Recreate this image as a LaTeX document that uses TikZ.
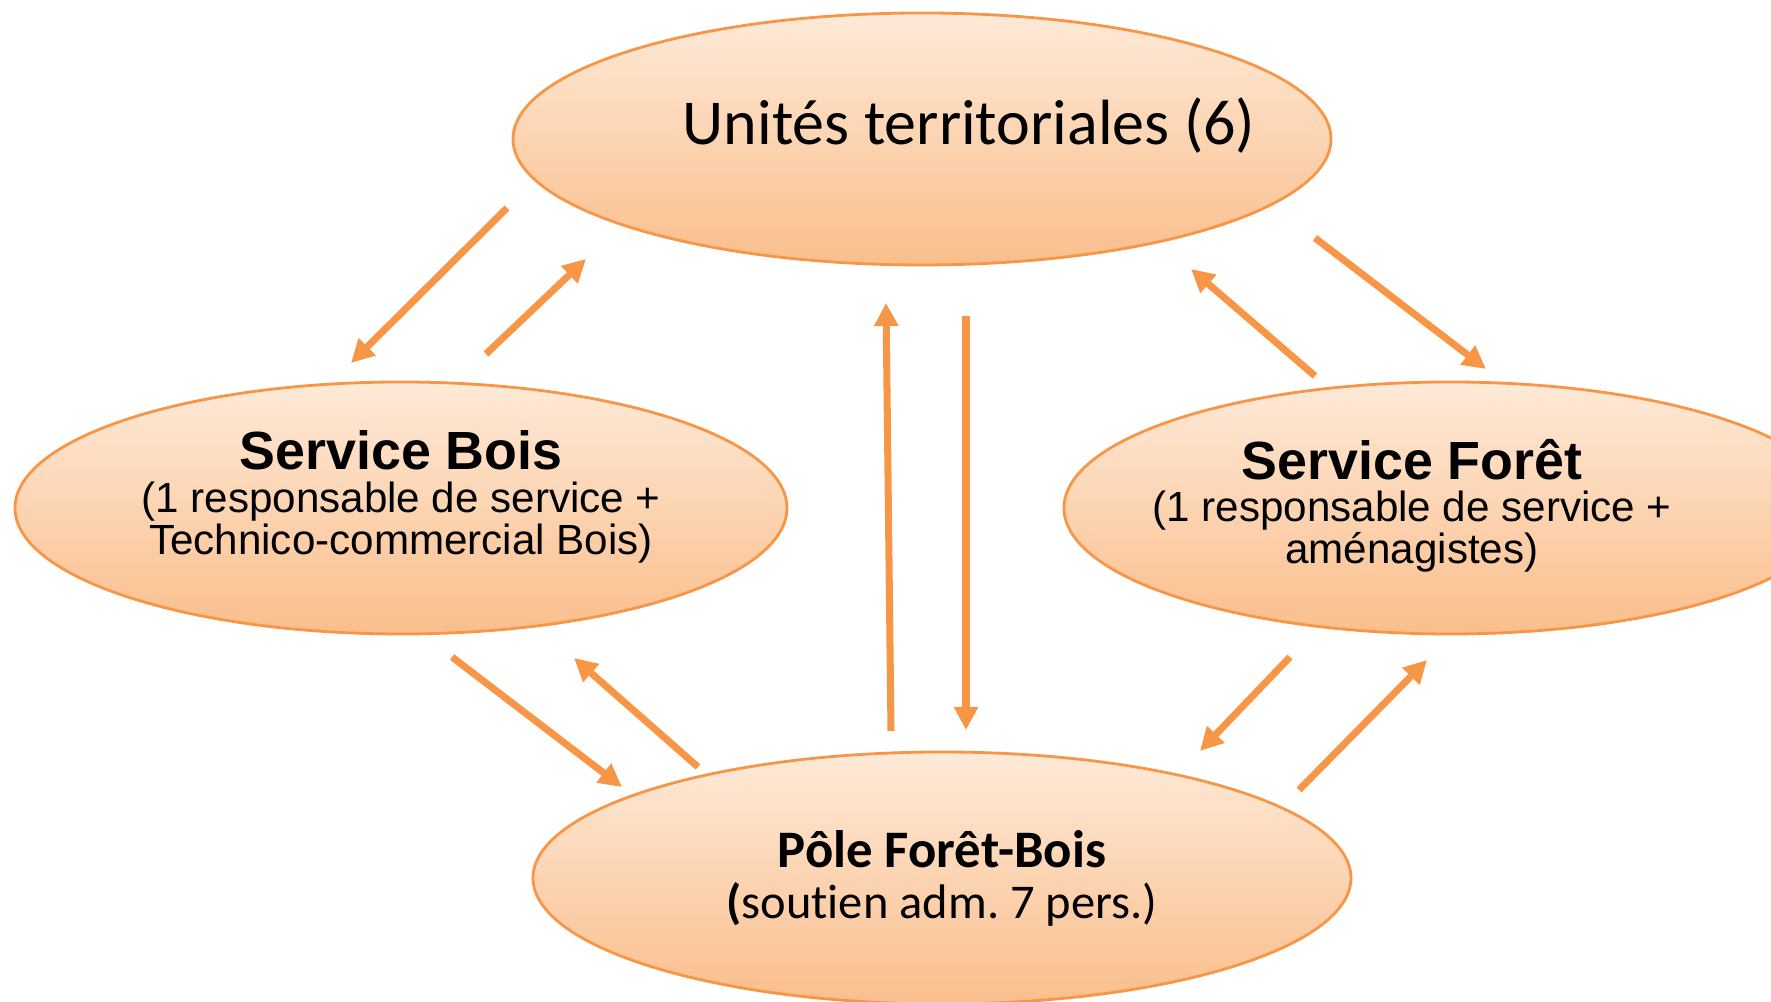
\documentclass[tikz,border=0pt]{standalone}
\usepackage{fontspec}
\setmainfont{Liberation Sans}
\newfontfamily\calibri[Ligatures=NoCommon]{Carlito}
\usetikzlibrary{shapes.geometric, arrows.meta, positioning}
\definecolor{accent}{RGB}{247,150,70}
\definecolor{peachtop}{RGB}{254,234,216}
\definecolor{peachbot}{RGB}{250,190,140}
\frenchspacing

\begin{document}
\begin{tikzpicture}[
    unit/.style={ellipse, draw=accent, line width=0.8pt, top color=peachtop, bottom color=peachbot, inner sep=0pt, minimum height=2.52cm},
    txt/.style={align=center, inner sep=0pt},
    arrow/.style={-{Triangle[width=0.23cm,length=0.23cm]}, line width=2pt, accent},
    ]
    \useasboundingbox (0,0) rectangle (17.71,10.02);
    \clip (0,0) rectangle (17.71,10.02);

    % Nodes
    \node[unit, minimum width=8.18cm] (ut) at (9.22,8.63) {};
    \node[unit, minimum width=7.72cm] (sb) at (4.01,4.94) {};
    \node[unit, minimum width=7.72cm] (sf) at (14.50,4.94) {};
    \node[unit, minimum width=8.18cm] (pfb) at (9.42,1.24) {};

    % Texts
    \node[txt, font=\calibri\fontsize{18.2}{20}\selectfont] (uttext) at (9.69,8.76) {Unités territoriales (6)};
    \node[txt, font=\fontsize{12}{12}\selectfont] (sbtext) at (4.01,5.05)
        {{\fontsize{15.3}{15.3}\selectfont\bfseries Service Bois}\\(1 responsable de service +\\Technico-commercial Bois)};
    \node[txt, font=\fontsize{12}{12}\selectfont] (sftext) at (14.12,4.96)
        {{\fontsize{15.3}{15.3}\selectfont\bfseries Service Forêt}\\(1 responsable de service +\\aménagistes)};
    \node[txt, font=\calibri\fontsize{13.8}{14.5}\selectfont] (pfbtext) at (9.42,1.24)
        {{\fontsize{15}{15}\selectfont\bfseries Pôle Forêt-Bois}\\{\bfseries(}soutien adm. 7 pers.)};

    % Edges
    \draw[arrow] ([shift={(-4.15,-0.69)}]ut.center) -- ([shift={(-0.50,1.45)}]sb.center);
    \draw[arrow] ([shift={(0.85,1.54)}]sb.center) -- ([shift={(-3.36,-1.20)}]ut.center);
    \draw[arrow] ([shift={(3.93,-0.99)}]ut.center) -- ([shift={(0.36,1.39)}]sf.center);
    \draw[arrow] ([shift={(-1.35,1.32)}]sf.center) -- ([shift={(2.69,-1.30)}]ut.center);
    \draw[arrow] ([shift={(-0.51,1.47)}]pfb.center) -- ([shift={(-0.36,-1.64)}]ut.center);
    \draw[arrow] ([shift={(0.44,-1.77)}]ut.center) -- ([shift={(0.24,1.48)}]pfb.center);
    \draw[arrow] ([shift={(0.51,-1.49)}]sb.center) -- ([shift={(-3.20,0.91)}]pfb.center);
    \draw[arrow] ([shift={(-2.44,1.11)}]pfb.center) -- ([shift={(1.73,-1.50)}]sb.center);
    \draw[arrow] ([shift={(-1.60,-1.49)}]sf.center) -- ([shift={(2.58,1.27)}]pfb.center);
    \draw[arrow] ([shift={(3.57,0.88)}]pfb.center) -- ([shift={(-0.23,-1.52)}]sf.center);
\end{tikzpicture}
\end{document}
